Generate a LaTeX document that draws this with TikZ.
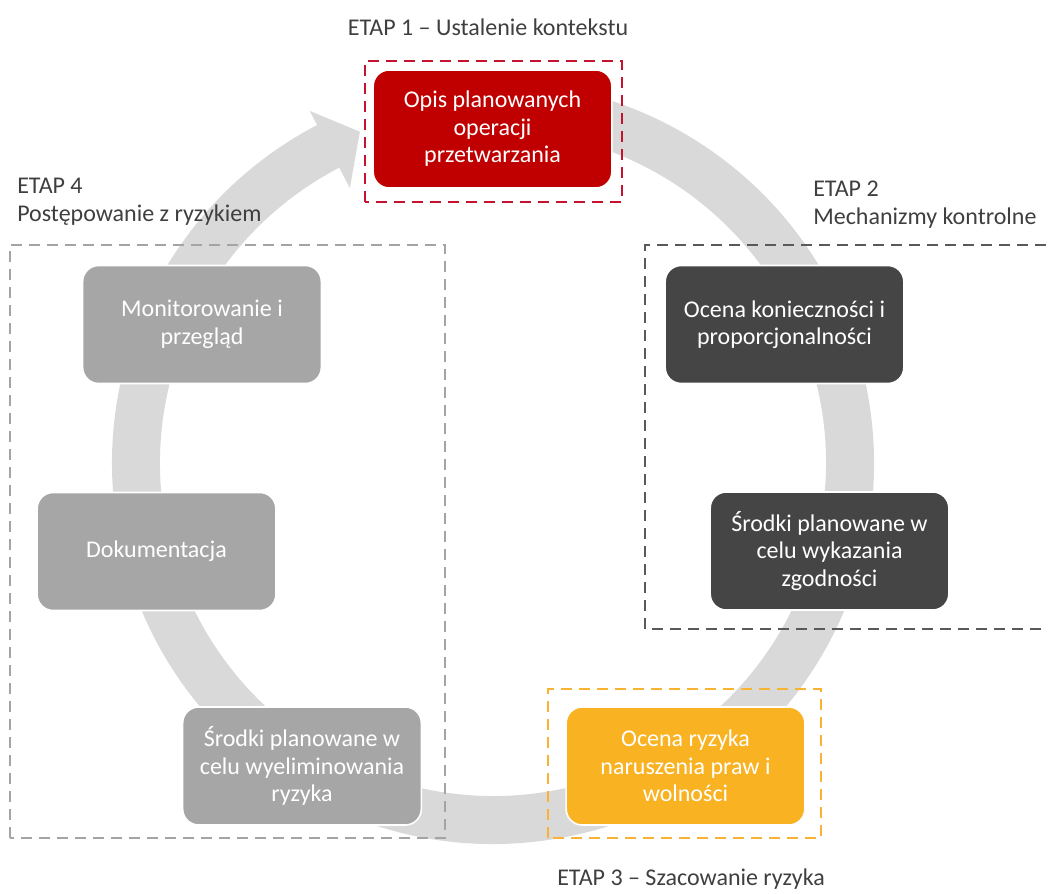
\documentclass[tikz,border=0pt]{standalone}
\usepackage{fontspec}
\setmainfont{Carlito}
\usetikzlibrary{calc}
\definecolor{ringgray}{HTML}{D9D9D9}
\definecolor{labelgray}{HTML}{3F3F3F}
\definecolor{boxred}{HTML}{C00000}
\definecolor{boxdark}{HTML}{454545}
\definecolor{boxmid}{HTML}{A6A6A6}
\definecolor{boxorange}{HTML}{F9B222}
\definecolor{framered}{HTML}{C4122F}
\definecolor{framegray}{HTML}{A8A3A3}
\definecolor{framedark}{HTML}{595959}
\definecolor{frameorange}{HTML}{F9B233}
\begin{document}
\begin{tikzpicture}[x=0.75pt,y=0.75pt,
  box/.style={rectangle, rounded corners=12pt, minimum width=179pt, minimum height=88.5pt,
    draw=white, line width=1.2pt, text=white, align=center, inner sep=0pt,
    font=\fontsize{18}{20.6}\selectfont},
  frame/.style={dash pattern=on 8pt off 5.5pt, line width=1.6pt},
  lbl/.style={text=labelgray, inner sep=0pt, font=\fontsize{18}{21}\selectfont}]
\useasboundingbox (0,0) rectangle (1048,893);
\clip (0,0) rectangle (1048,893);
% background cycle arrow
\coordinate (c) at (493,430);
\fill[ringgray] ($(c)+(100:285.75pt)$) arc[start angle=100, end angle=-242.5, radius=285.75pt]
  -- ($(c)+(-242.5:297.75pt)$) -- ($(c)+(-248.1:267.75pt)$) -- ($(c)+(-242.5:232.5pt)$)
  -- ($(c)+(-242.5:249.75pt)$) arc[start angle=-242.5, end angle=100, radius=249.75pt] -- cycle;
% stage frames
\draw[frame, framered] (365,691) rectangle (622,832);
\draw[frame, framegray] (10,55) rectangle (445,648);
\draw[frame, framedark] (645,264) rectangle (1062,648);
\draw[frame, frameorange] (548,55) rectangle (821,204);
% stage labels
\node[lbl] (etap1) at (488,866) {ETAP 1 – Ustalenie kontekstu};
\node[lbl, anchor=west, align=left] (etap4) at (17,691) {ETAP 4\\Postępowanie z ryzykiem};
\node[lbl, anchor=west, align=left] (etap2) at (813,688) {ETAP 2\\Mechanizmy kontrolne};
\node[lbl] (etap3) at (691,14) {ETAP 3 – Szacowanie ryzyka};
% boxes
\node[box, fill=boxred] (opis) at (492.5,764) {Opis planowanych\\operacji\\przetwarzania};
\node[box, fill=boxmid] (monit) at (202,568.5) {Monitorowanie i\\przegląd};
\node[box, fill=boxmid] (dok) at (156.5,341.5) {Dokumentacja};
\node[box, fill=boxmid] (elim) at (302,127) {Środki planowane w\\celu wyeliminowania\\ryzyka};
\node[box, fill=boxdark] (ocena) at (784.5,568.5) {Ocena konieczności i\\proporcjonalności};
\node[box, fill=boxdark] (wyk) at (829.5,342) {Środki planowane w\\celu wykazania\\zgodności};
\node[box, fill=boxorange] (ryzyko) at (685.5,127) {Ocena ryzyka\\naruszenia praw i\\wolności};
\end{tikzpicture}
\end{document}
